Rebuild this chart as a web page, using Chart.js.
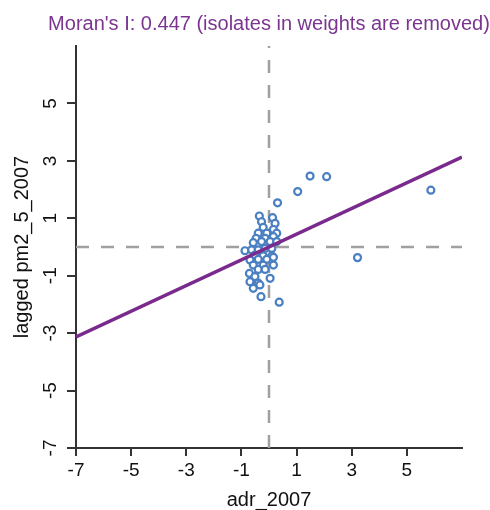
<!DOCTYPE html>
<html lang="en">
<head>
    <meta charset="UTF-8">
    <title>Moran scatter</title>
    <script src="https://cdn.jsdelivr.net/npm/chart.js"></script>
    <style>
        body {
            margin: 0;
            padding: 0;
            background: #fff;
        }
        #wrap {
            width: 490px;
            height: 510px;
        }
    </style>
</head>
<body>
    <div id="wrap"><canvas id="moranChart" width="490" height="510"></canvas></div>

    <script>
        const moranI = 0.447;
        const titleText = "Moran's I: 0.447 (isolates in weights are removed)";
        const xTicks = [-7, -5, -3, -1, 1, 3, 5];
        const yTicks = [-7, -5, -3, -1, 1, 3, 5];
        const lineX = [-7, 7];

        // standardized adr_2007 values and their spatial lags
        const adrValues = [1.49, 2.09, 1.04, 0.31, 5.87, 3.21, -0.29, 0.37,
            -0.35, 0.13, -0.27, 0.22, -0.21, 0.16, -0.39, -0.08, 0.28, -0.47,
            -0.14, 0.16, -0.57, -0.27, 0.04, 0.28, -0.87, -0.63, -0.39, -0.14,
            0.10, -0.51, -0.21, 0.10, -0.69, -0.39, -0.08, 0.16, -0.57, -0.21,
            0.16, -0.71, -0.39, -0.14, -0.51, 0.04, -0.69, -0.39, -0.57, -0.33];
        const laggedValues = [2.47, 2.45, 1.93, 1.54, 1.98, -0.37, -1.73, -1.92,
            1.08, 1.02, 0.88, 0.82, 0.68, 0.61, 0.48, 0.48, 0.48, 0.30,
            0.30, 0.36, 0.15, 0.19, 0.19, 0.19, -0.13, -0.10, -0.10, -0.05,
            -0.05, -0.28, -0.31, -0.31, -0.45, -0.43, -0.43, -0.36, -0.63, -0.63,
            -0.63, -0.92, -0.78, -0.78, -1.03, -1.09, -1.21, -1.26, -1.44, -1.32];

        const fontFamily = "'Liberation Sans', Arial, Helvetica, sans-serif";
        const axisColor = '#333';
        const textColor = '#111';

        const points = adrValues.map((x, i) => ({ x: x, y: laggedValues[i] }));
        const fitLine = lineX.map(x => ({ x: x, y: moranI * x }));

        // title and rotated y tick labels, R style
        const extrasPlugin = {
            id: 'extras',
            afterDraw(chart) {
                const ctx = chart.ctx;
                const area = chart.chartArea;
                const yScale = chart.scales.y;
                ctx.save();
                ctx.fillStyle = '#7b3590';
                ctx.font = '20px ' + fontFamily;
                ctx.textAlign = 'center';
                ctx.textBaseline = 'middle';
                ctx.fillText(titleText, (area.left + area.right) / 2, 24);

                ctx.fillStyle = textColor;
                ctx.font = '19px ' + fontFamily;
                yTicks.forEach(v => {
                    const py = yScale.getPixelForValue(v);
                    ctx.save();
                    ctx.translate(51, py);
                    ctx.rotate(-Math.PI / 2);
                    ctx.fillText(String(v), 0, 0);
                    ctx.restore();
                });
                ctx.restore();
            }
        };

        const ctx = document.getElementById('moranChart').getContext('2d');
        new Chart(ctx, {
            data: {
                datasets: [
                    {
                        type: 'line',
                        data: fitLine,
                        borderColor: '#7a2a8c',
                        borderWidth: 3.5,
                        pointRadius: 0,
                        fill: false,
                        order: 0
                    },
                    {
                        type: 'scatter',
                        data: points,
                        borderColor: '#4a7fc2',
                        backgroundColor: '#ffffff',
                        borderWidth: 2.2,
                        pointRadius: 3.5,
                        order: 1
                    },
                    {
                        type: 'line',
                        data: [{ x: 0, y: -7 }, { x: 0, y: 7 }],
                        borderColor: '#a0a0a0',
                        borderWidth: 2.5,
                        borderDash: [13, 12],
                        pointRadius: 0,
                        order: 2
                    },
                    {
                        type: 'line',
                        data: [{ x: -7, y: 0 }, { x: 7, y: 0 }],
                        borderColor: '#a0a0a0',
                        borderWidth: 2.5,
                        borderDash: [13, 12],
                        pointRadius: 0,
                        order: 2
                    }
                ]
            },
            options: {
                responsive: false,
                animation: false,
                devicePixelRatio: 1,
                layout: {
                    padding: { top: 46, right: 28, left: 0, bottom: 0 }
                },
                plugins: {
                    legend: { display: false },
                    tooltip: { enabled: false }
                },
                scales: {
                    x: {
                        type: 'linear',
                        min: -7,
                        max: 7,
                        afterBuildTicks: scale => {
                            scale.ticks = xTicks.map(v => ({ value: v }));
                        },
                        afterFit: scale => {
                            scale.height = 62;
                        },
                        border: { display: true, color: axisColor, width: 2 },
                        grid: {
                            drawOnChartArea: false,
                            drawTicks: true,
                            tickLength: 8,
                            color: axisColor,
                            lineWidth: 2
                        },
                        ticks: {
                            color: textColor,
                            font: { family: fontFamily, size: 19 },
                            padding: 3,
                            maxRotation: 0,
                            autoSkip: false
                        },
                        title: {
                            display: true,
                            text: 'adr_2007',
                            color: textColor,
                            font: { family: fontFamily, size: 20, lineHeight: 1 },
                            padding: { top: 0, bottom: 0 }
                        }
                    },
                    y: {
                        type: 'linear',
                        min: -7,
                        max: 7,
                        afterBuildTicks: scale => {
                            scale.ticks = yTicks.map(v => ({ value: v }));
                        },
                        afterFit: scale => {
                            scale.width = 76;
                        },
                        border: { display: true, color: axisColor, width: 2 },
                        grid: {
                            drawOnChartArea: false,
                            drawTicks: true,
                            tickLength: 9,
                            color: axisColor,
                            lineWidth: 2
                        },
                        ticks: {
                            display: false
                        },
                        title: {
                            display: true,
                            text: 'lagged pm2_5_2007',
                            color: textColor,
                            font: { family: fontFamily, size: 20 },
                            padding: { top: 10, bottom: 0 }
                        }
                    }
                }
            },
            plugins: [extrasPlugin]
        });
    </script>
</body>
</html>
